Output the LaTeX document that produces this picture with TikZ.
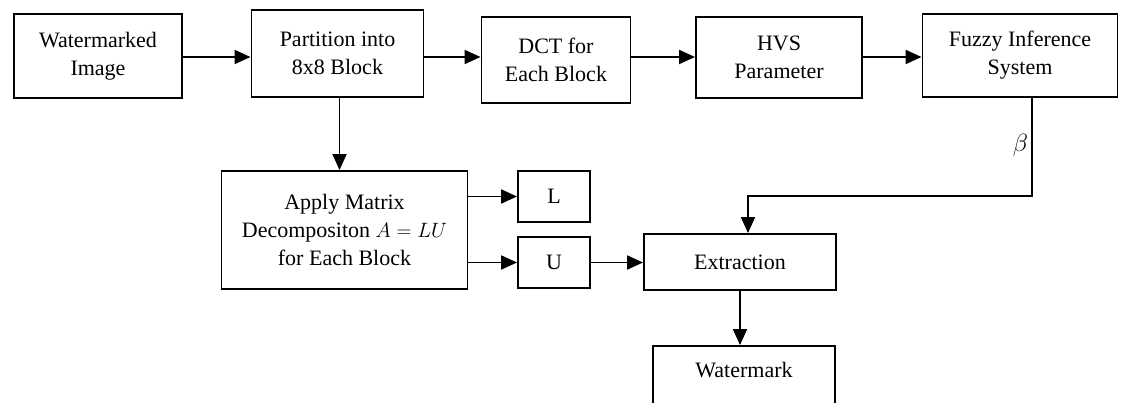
\documentclass[tikz,border=0pt]{standalone}
\usepackage{fontspec}
\setmainfont{Liberation Serif}
\usepackage{tikz}
\usetikzlibrary{arrows.meta}
\tikzset{/wm/block/.style={
	shape=rectangle, draw, line width=1.9pt, align=center, inner sep=0pt, font=\fontsize{22}{28}\selectfont
}}
\tikzset{/wm/flow/.style={
	line width=1.9pt, -{Triangle[length=16pt,width=14pt]}
}}

\begin{document}
\begin{tikzpicture}[x=1pt,y=-1pt]
	\useasboundingbox (0,0) rectangle (1128,403);
	\coordinate (row) at (0,57);
	\path node[/wm/block, minimum width=168pt, minimum height=84pt] (img) at (98,56) {Watermarked\\Image};
	\path node[/wm/block, minimum width=172pt, minimum height=87pt] (part) at (337.5,53.5) {Partition into\\8x8 Block};
	\path node[/wm/block, minimum width=149pt, minimum height=86pt] (dct) at (556,60) {DCT for\\Each Block};
	\path node[/wm/block, minimum width=166pt, minimum height=81pt] (hvs) at (779,57.5) {HVS\\Parameter};
	\path node[/wm/block, minimum width=195pt, minimum height=83pt] (fis) at (1020,55.5) {Fuzzy Inference\\System};
	\path node[/wm/block, minimum width=246pt, minimum height=118pt] (lu) at (344.5,230) {Apply Matrix\\Decompositon $A=LU$\\for Each Block};
	\path node[/wm/block, minimum width=72pt, minimum height=51pt] (L) at (554,196.5) {L};
	\path node[/wm/block, minimum width=72pt, minimum height=51pt] (U) at (554,262.5) {U};
	\path node[/wm/block, minimum width=192pt, minimum height=56pt] (ext) at (740,262) {Extraction};
	\path node[/wm/block, minimum width=182pt, text height=32pt, text depth=42pt, anchor=base] (wm) at (744,378) {Watermark};

	\draw[/wm/flow] (img.east |- row) -- (part.west |- row);
	\draw[/wm/flow] (part.east |- row) -- (dct.west |- row);
	\draw[/wm/flow] (dct.east |- row) -- (hvs.west |- row);
	\draw[/wm/flow] (hvs.east |- row) -- (fis.west |- row);
	\draw[/wm/flow] ([xshift=2pt]part.south) -- ([xshift=2pt]part.south |- lu.north);
	\draw[/wm/flow] (lu.east |- L) -- (L.west);
	\draw[/wm/flow] (lu.east |- U) -- (U.west);
	\draw[/wm/flow] (U.east) -- (U -| ext.west);
	\draw[/wm/flow] ([xshift=12pt]fis.south) -- node[left, pos=0.48, inner sep=3pt, font=\fontsize{26}{28}\selectfont] {$\beta$} ++(0,98) -| ([xshift=8pt]ext.north);
	\draw[/wm/flow] (ext.south) -- (ext.south |- wm.north);
\end{tikzpicture}
\end{document}
